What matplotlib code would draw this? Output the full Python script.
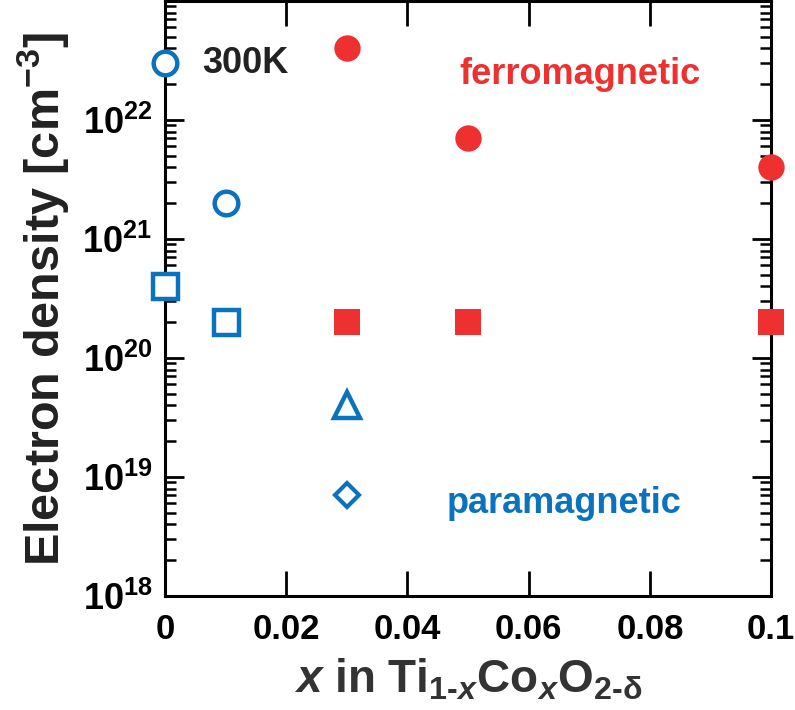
import matplotlib
matplotlib.use("Agg")
import matplotlib.pyplot as plt
from matplotlib.ticker import LogLocator, FixedLocator, NullFormatter

FONT = "Liberation Sans"

plt.rcParams['font.family'] = [FONT, 'DejaVu Sans']
plt.rcParams['mathtext.fontset'] = 'custom'
plt.rcParams['mathtext.rm'] = f'{FONT}:bold'
plt.rcParams['mathtext.bf'] = f'{FONT}:bold'
plt.rcParams['mathtext.it'] = f'{FONT}:bold:italic'
plt.rcParams['mathtext.sf'] = f'{FONT}:bold'

BLUE = '#0B72BD'
RED = '#EE3030'

# data
para_circle_x = [0.0, 0.01]
para_circle_y = [3e22, 2e21]
para_square_x = [0.0, 0.01]
para_square_y = [4e20, 2e20]
para_tri_x = [0.03]
para_tri_y = [4e19]
para_diam_x = [0.03]
para_diam_y = [7e18]
ferro_circle_x = [0.03, 0.05, 0.1]
ferro_circle_y = [4e22, 7e21, 4e21]
ferro_square_x = [0.03, 0.05, 0.1]
ferro_square_y = [2e20, 2e20, 2e20]

xticks = [0, 0.02, 0.04, 0.06, 0.08, 0.1]
xticklabels = ['0', '0.02', '0.04', '0.06', '0.08', '0.1']
yticks = [1e18, 1e19, 1e20, 1e21, 1e22]
yticklabels = [r'$10^{18}$', r'$10^{19}$', r'$10^{20}$', r'$10^{21}$', r'$10^{22}$']

fig = plt.figure(figsize=(7.95, 7.10), dpi=100)
ax = fig.add_axes([0.2075, 0.1606, 0.7625, 0.838])
ax.set_yscale('log')
ax.set_xlim(0, 0.1)
ax.set_ylim(1e18, 1e23)

kw = dict(linestyle='none', clip_on=False, zorder=5)
ax.plot(para_circle_x, para_circle_y, marker='o', ms=17, mfc='white', mec=BLUE, mew=3.2, **kw)
ax.plot(para_square_x, para_square_y, marker='s', ms=18, mfc='white', mec=BLUE, mew=3.2, **kw)
ax.plot(para_tri_x, para_tri_y, marker='^', ms=19, mfc='white', mec=BLUE, mew=3.2, **kw)
ax.plot(para_diam_x, para_diam_y, marker='D', ms=12, mfc='white', mec=BLUE, mew=3.0, **kw)
ax.plot(ferro_circle_x, ferro_circle_y, marker='o', ms=19, mfc=RED, mec=RED, mew=0, **kw)
ax.plot(ferro_square_x, ferro_square_y, marker='s', ms=19, mfc=RED, mec=RED, mew=0, **kw)

ax.set_xticks(xticks)
ax.set_xticklabels(xticklabels)
ax.yaxis.set_major_locator(FixedLocator(yticks))
ax.set_yticklabels(yticklabels)
ax.yaxis.set_minor_locator(LogLocator(base=10, subs=range(2, 10), numticks=20))
ax.yaxis.set_minor_formatter(NullFormatter())

for s in ax.spines.values():
    s.set_linewidth(2.2)
ax.tick_params(axis='both', which='both', direction='in', top=True, right=True, width=2.0)
ax.tick_params(axis='x', which='major', length=18, pad=12, labelsize=25)
ax.tick_params(axis='y', which='major', length=14, pad=9, labelsize=26)
ax.tick_params(axis='y', which='minor', length=8, width=1.8)
for lab in ax.get_xticklabels():
    lab.set_fontweight('bold')

ax.set_ylabel(r'Electron density [cm$^{\mathbf{-3}}$]', fontsize=35, fontweight='bold', color='#222222', labelpad=8)
ax.set_xlabel(r'$\mathit{x}$ in Ti$_{1\text{-}\mathit{x}}$Co$_{\mathit{x}}$O$_{2\text{-}\mathrm{δ}}$',
              fontsize=33, fontweight='bold', color='#333333', labelpad=8)

ax.text(0.0062, 3e22, '300K', fontsize=26, fontweight='bold', color='#222222', va='center', ha='left')
ax.text(0.0485, 2.4e22, 'ferromagnetic', fontsize=26, fontweight='bold', color=RED, va='center', ha='left')
ax.text(0.0465, 6.0e18, 'paramagnetic', fontsize=26, fontweight='bold', color=BLUE, va='center', ha='left')

fig.savefig('out.png', dpi=100)
